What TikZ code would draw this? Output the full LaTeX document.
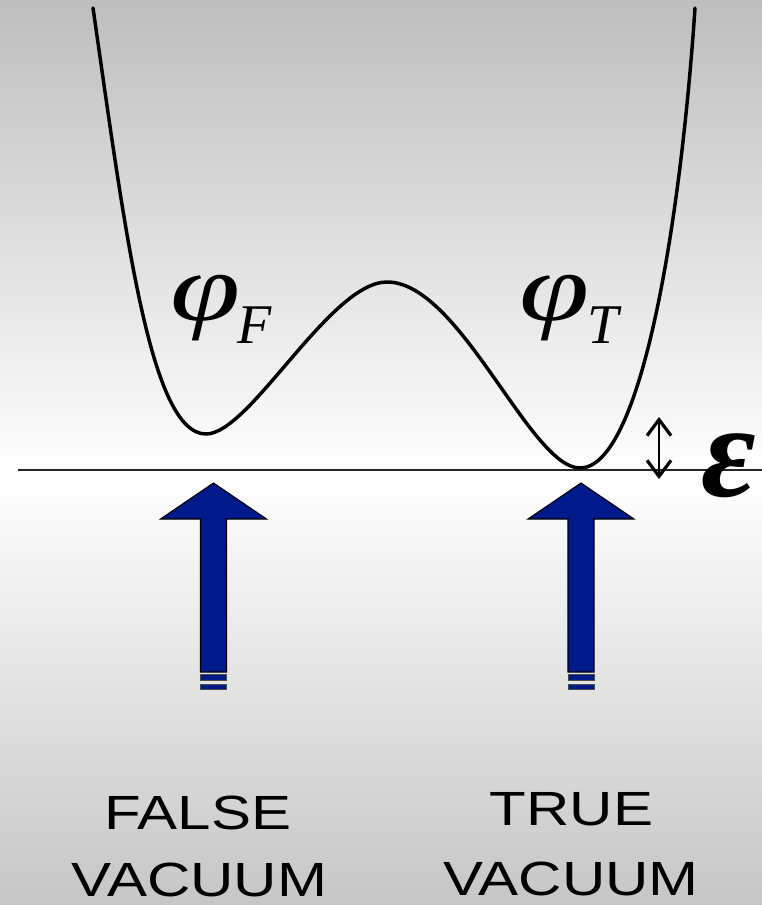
\RequirePackage{fix-cm}
\documentclass[tikz,border=0pt]{standalone}
\usepackage{fontspec}
\newfontfamily\capfont[FakeStretch=1.25]{Liberation Sans}
\newfontfamily\tms{Liberation Serif}
\usetikzlibrary{arrows.meta}
\definecolor{bgtop}{RGB}{190,190,190}
\definecolor{bgbot}{RGB}{198,198,198}
\definecolor{navy}{RGB}{0,26,140}
\tikzset{
  curve/.style={line width=2.6pt,line join=round,line cap=round},
  hline/.style={line width=1.3pt,black!85},
  epsarrow/.style={line width=1.4pt,{Straight Barb[length=12pt,width=18pt,line width=2.4pt]}-{Straight Barb[length=12pt,width=18pt,line width=2.4pt]}},
  bluearrow/.style={fill=navy,draw=black,line width=0.8pt,line join=miter},
  stripe/.style={fill=navy,draw=black!70,line width=0.6pt},
  philbl/.style={inner sep=0pt,anchor=base west,font=\fontsize{72}{72}\selectfont\tms\itshape},
  sublbl/.style={inner sep=0pt,anchor=base west,font=\fontsize{42}{42}\selectfont\tms\itshape},
  vac/.style={inner sep=0pt,font=\fontsize{36}{40}\selectfont\capfont}
}
\begin{document}
\begin{tikzpicture}[x=0.75pt,y=-0.75pt]
\useasboundingbox (0,0) rectangle (762,905);
\shade[top color=bgtop,bottom color=white] (0,0) rectangle (762,476);
\shade[top color=white,bottom color=bgbot] (0,475) rectangle (762,905);
% baseline
\coordinate (hl) at (18,470);
\coordinate (hr) at (762,470);
\draw[hline] (hl) -- (hr);
% potential
\draw[curve] (93,8) .. controls (125,230) and (150,434) .. (206,434)
  .. controls (250,434) and (330,282) .. (387,282)
  .. controls (460,282) and (530,468) .. (580,468)
  .. controls (640,468) and (680,230) .. (695,8);
% labels
\node[philbl] (phiF) at (170,320) {\scalebox{1.32}[1]{φ}};
\node[sublbl] (subF) at (237,343) {F};
\node[philbl] (phiT) at (519,320) {\scalebox{1.32}[1]{φ}};
\node[sublbl] (subT) at (587,343) {T};
% epsilon
\coordinate (et) at (659,417);
\coordinate (eb) at (659,479);
\draw[epsarrow] (et) -- (eb);
\node[inner sep=0pt,anchor=base,font=\fontsize{100}{100}\selectfont\tms\bfseries\itshape] (eps) at (729,496) {ε};
% blue arrows
\foreach \cx/\nm in {213.5/L,581/R}{
  \draw[bluearrow] (\cx,483) -- (\cx+53,519) -- (\cx+13,519) -- (\cx+13,672)
     -- (\cx-13,672) -- (\cx-13,519) -- (\cx-53,519) -- cycle;
  \draw[stripe] (\cx-13,674.5) rectangle (\cx+13,680.5);
  \draw[stripe] (\cx-13,684.5) rectangle (\cx+13,689.5);
}
% captions
\node[vac] (f1) at (198,812.5) {FALSE};
\node[vac] (f2) at (199.5,879.5) {VACUUM};
\node[vac] (t1) at (571.5,809.5) {TRUE};
\node[vac] (t2) at (571,879) {VACUUM};
\end{tikzpicture}
\end{document}
